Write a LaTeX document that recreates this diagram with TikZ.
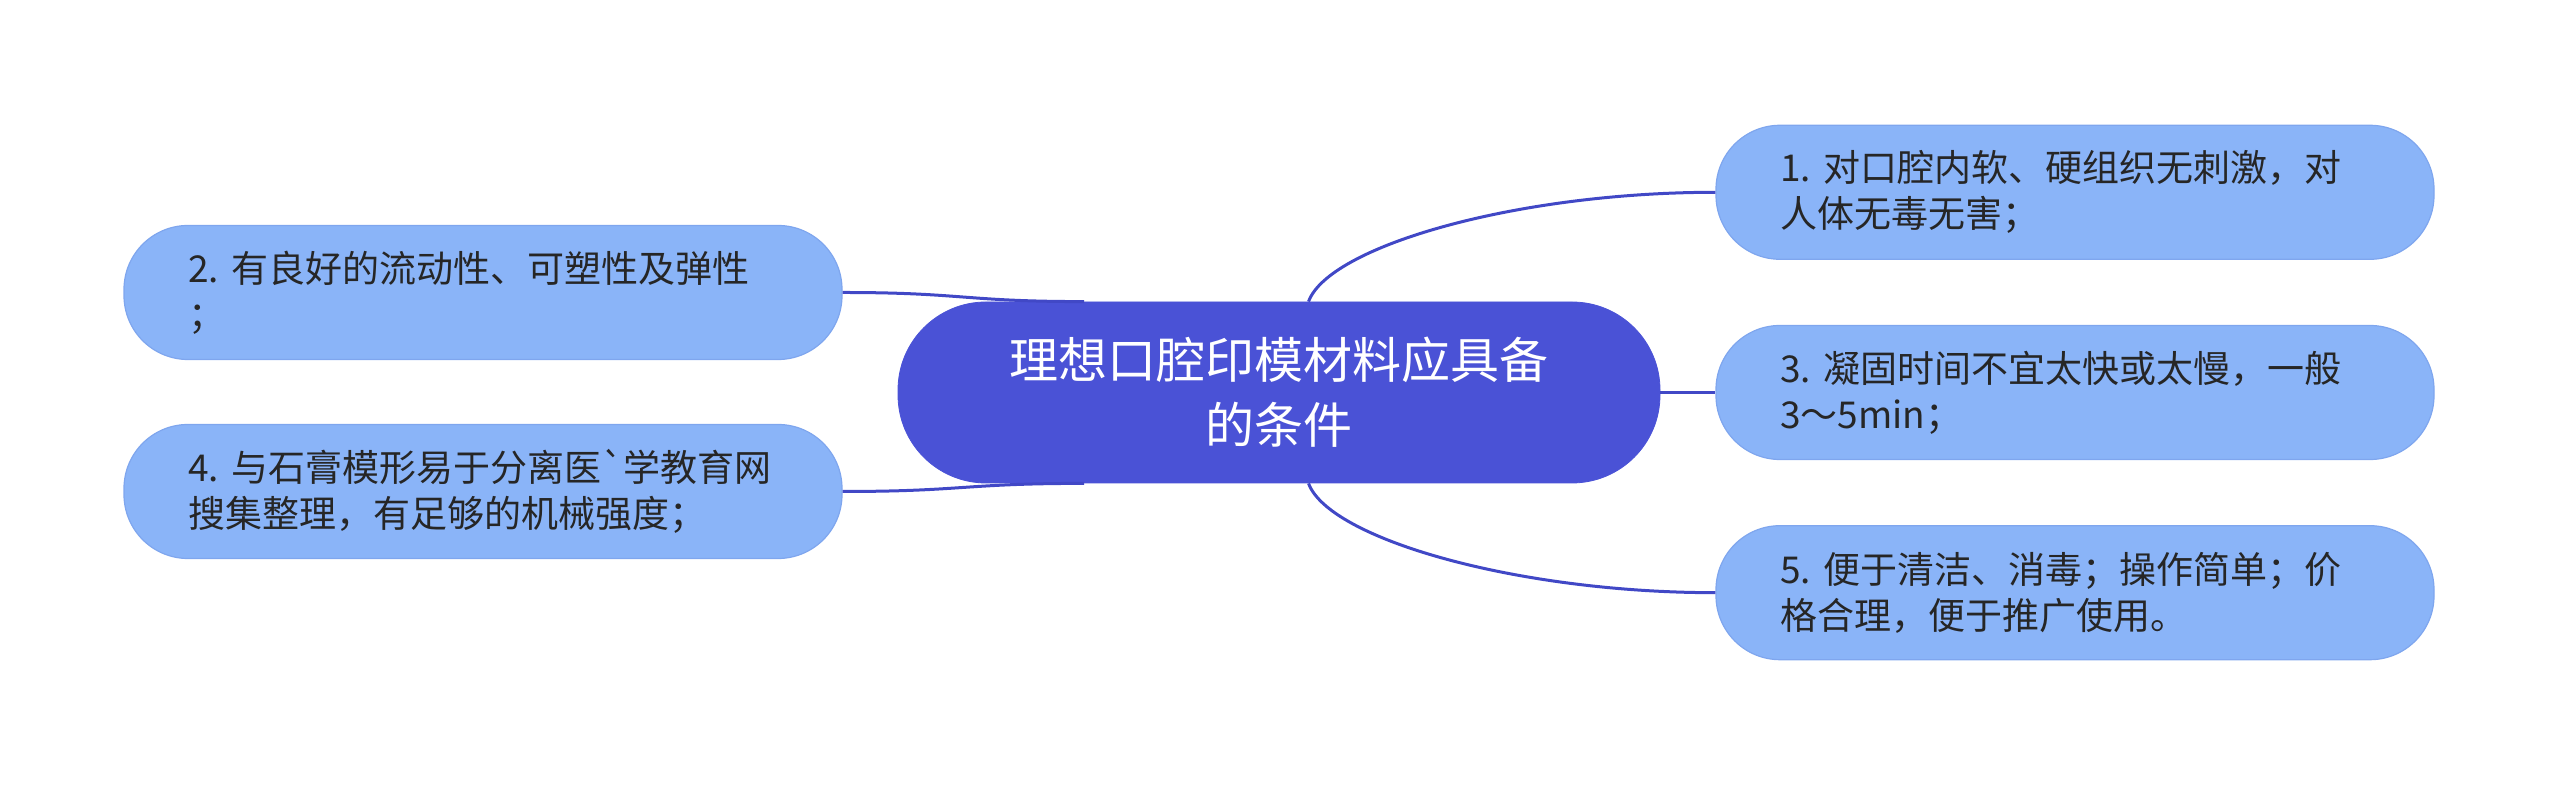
\documentclass[tikz,border=0pt]{standalone}
\usepackage{fontspec}
\newfontfamily\cjk{Noto Sans CJK SC}
\usepackage{tikz}
\usetikzlibrary{positioning}
\definecolor{rootblue}{HTML}{4A52D6}
\definecolor{leafblue}{HTML}{8AB4F8}
\definecolor{leafline}{HTML}{7FA6EE}
\definecolor{linkblue}{HTML}{4148C6}

\begin{document}
\begin{tikzpicture}[x=0.5pt,y=0.5pt,node distance=27.5pt,
  root node/.style={rectangle,rounded corners=44pt,fill=rootblue,draw=rootblue,text=white,
    minimum width=381pt,minimum height=90.5pt,align=center,font=\cjk\fontsize{24.5}{32.5}\selectfont},
  leaf node/.style={rectangle,rounded corners=32pt,fill=leafblue,draw=leafline,line width=0.6pt,
    text=black!85,text width=295pt,inner xsep=32pt,minimum height=67pt,align=left,
    font=\cjk\fontsize{18.5}{23}\selectfont},
  link/.style={draw=linkblue,line width=1.5pt}]

  \useasboundingbox (0,0) rectangle (2560,785);

  \node[root node] (root) at (1279,392.5) {理想口腔印模材料应具备\\的条件};
  \node[leaf node] (n3) [right=of root] {3.~凝固时间不宜太快或太慢，一般\\3～5min；};
  \node[leaf node] (n1) [above=32.5pt of n3] {1.~对口腔内软、硬组织无刺激，对\\人体无毒无害；};
  \node[leaf node] (n5) [below=32.5pt of n3] {5.~便于清洁、消毒；操作简单；价\\格合理，便于推广使用。};
  \node[leaf node] (n2) [left=of root,yshift=50pt] {2.~有良好的流动性、可塑性及弹性\\；};
  \node[leaf node] (n4) [left=of root,yshift=-49.5pt] {4.~与石膏模形易于分离医`学教育网\\搜集整理，有足够的机械强度；};

  \path[link] (root.72) .. controls +(20,55) and +(-200,0) .. (n1.west);
  \path[link] (root.east) -- (n3.west);
  \path[link] (root.-72) .. controls +(20,-55) and +(-200,0) .. (n5.west);
  \path[link] (n2.east) .. controls +(120,0) and +(-120,0) .. (root.155);
  \path[link] (n4.east) .. controls +(120,0) and +(-120,0) .. (root.-155);
\end{tikzpicture}
\end{document}
